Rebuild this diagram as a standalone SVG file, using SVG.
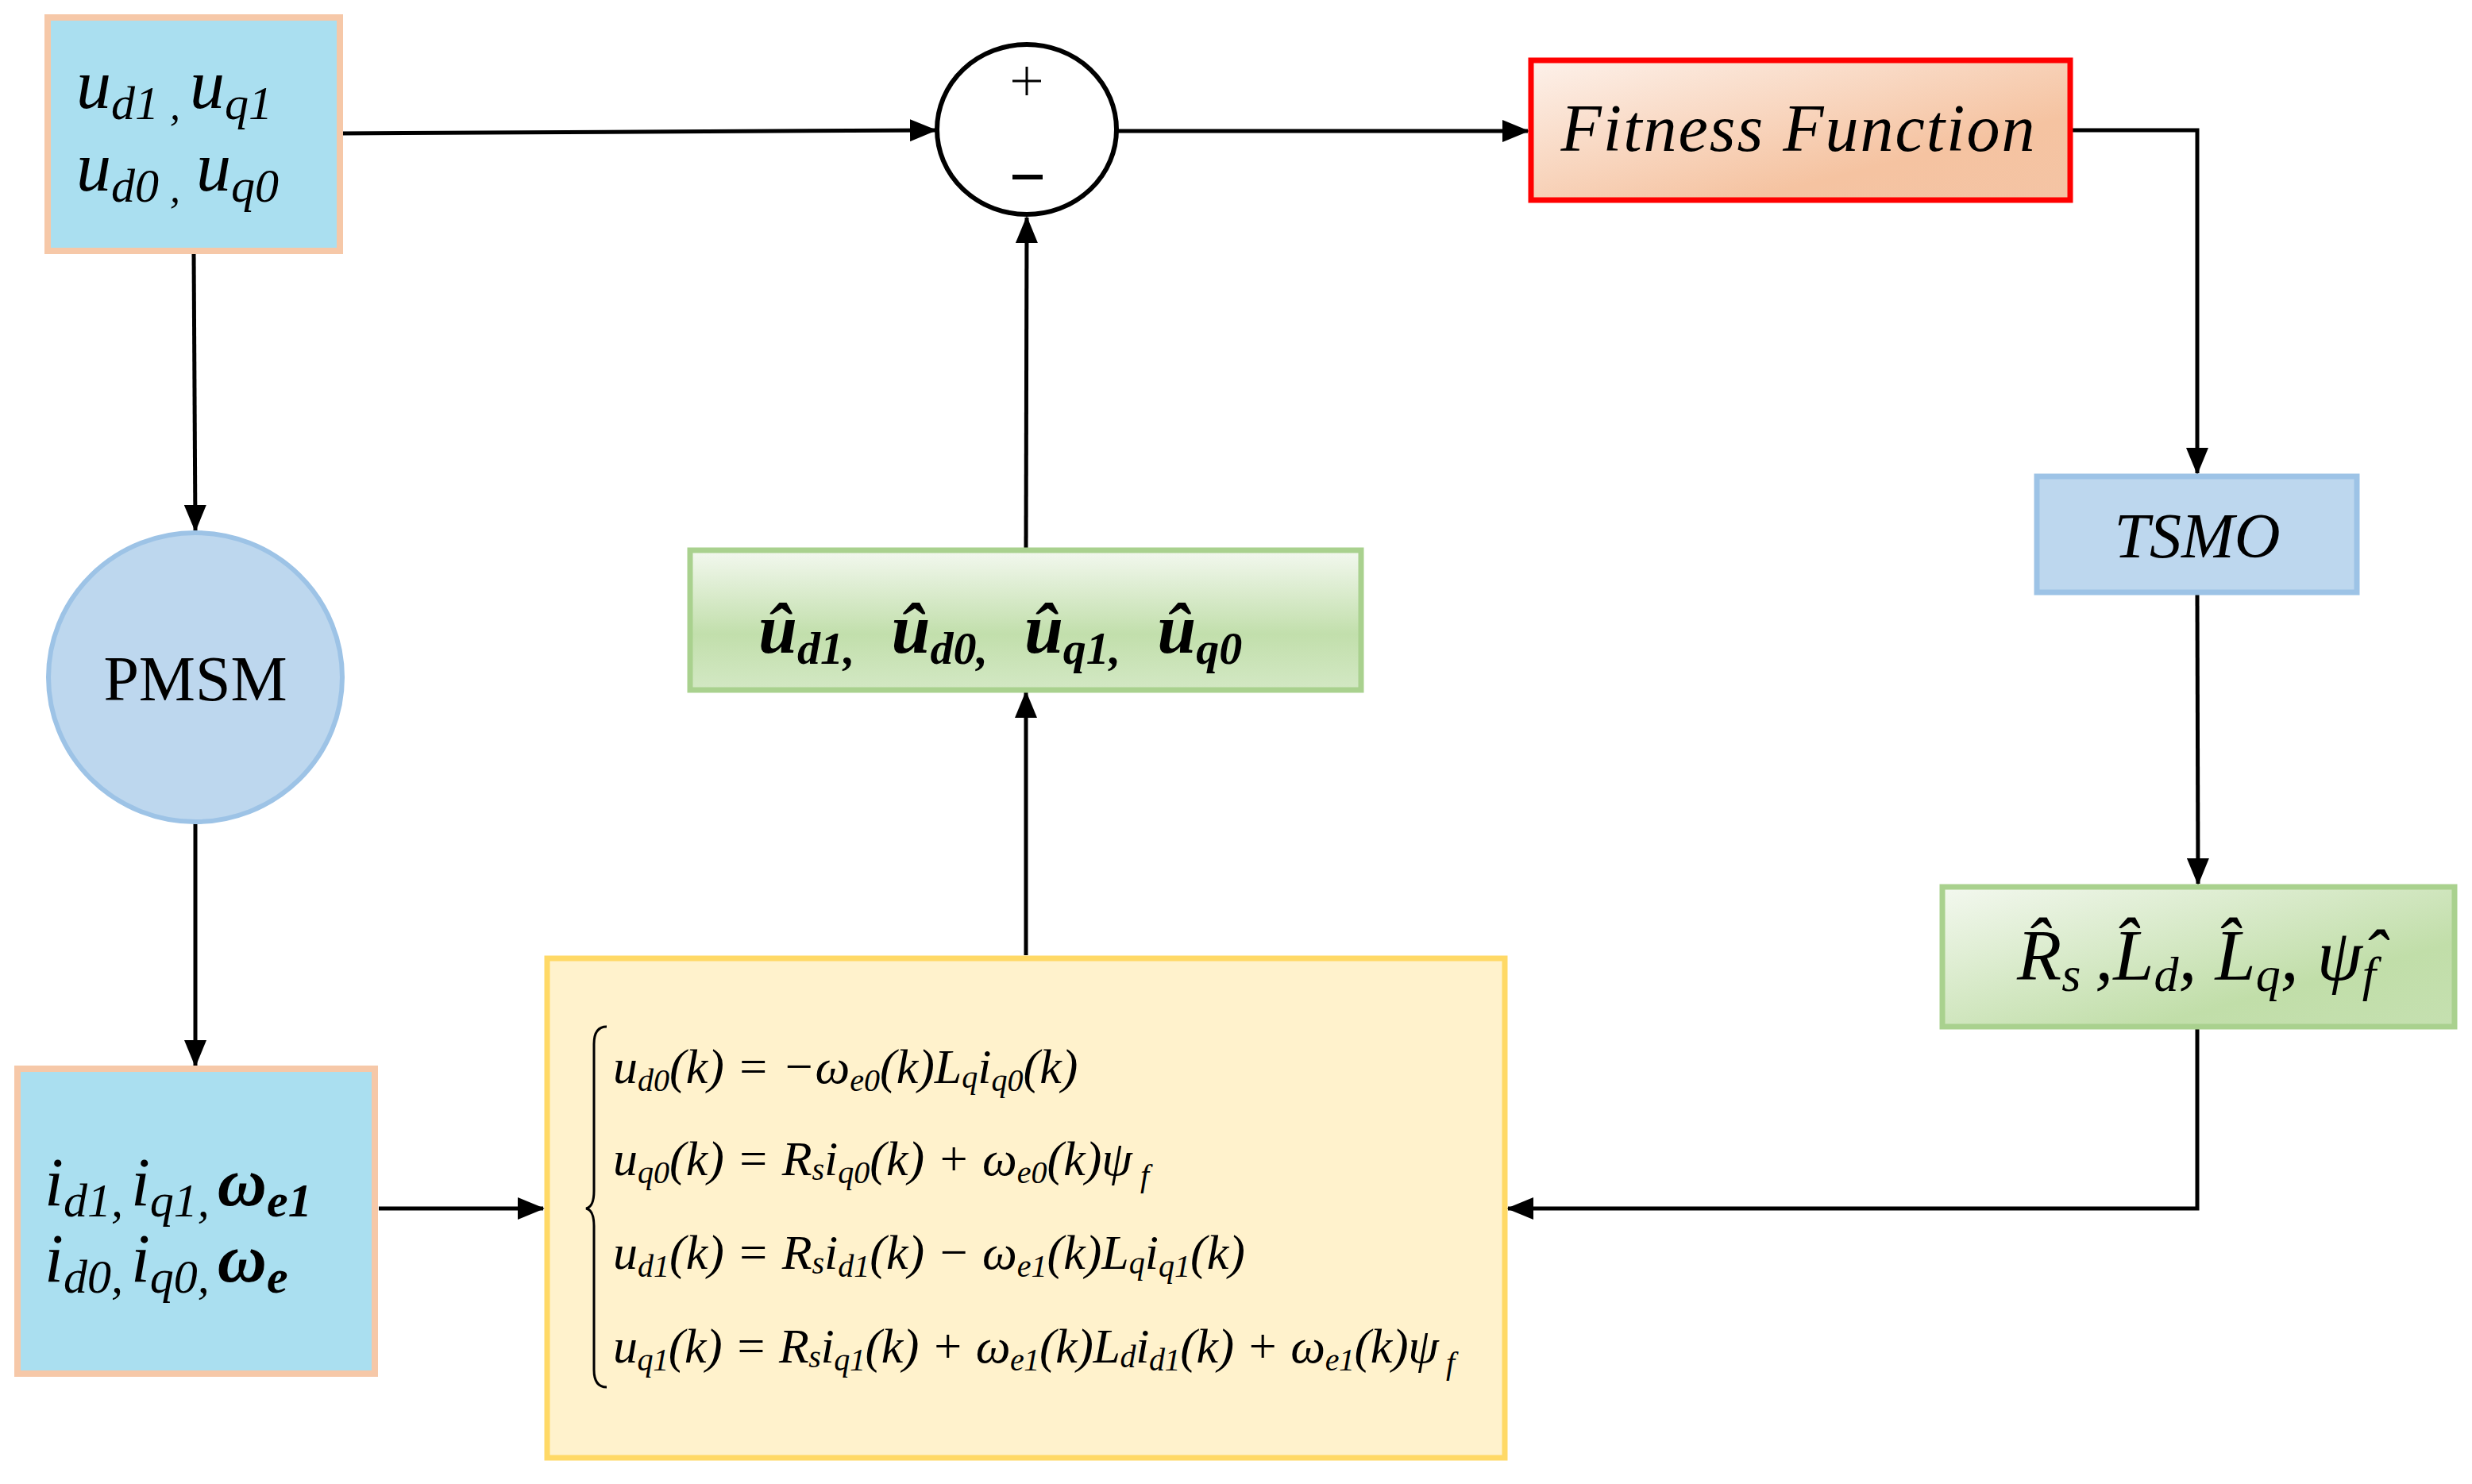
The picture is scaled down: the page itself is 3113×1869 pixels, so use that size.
<svg xmlns="http://www.w3.org/2000/svg" width="3113" height="1869" viewBox="0 0 3113 1869">
<style>
.t{font-family:"Liberation Serif","DejaVu Serif",serif;fill:#000}
.i{font-style:italic}
.b{font-weight:bold}
.ln{stroke:#000;stroke-width:5;fill:none}
</style>
<defs>
<marker id="ah" markerUnits="userSpaceOnUse" markerWidth="34" markerHeight="28" refX="32" refY="14" orient="auto">
<path d="M0,0 L34,14 L0,28 Z" fill="#000"/>
</marker>
<linearGradient id="gf" x1="0" y1="0" x2="1" y2="1">
<stop offset="0" stop-color="#fdf1ea"/><stop offset="0.7" stop-color="#f5c3a1"/><stop offset="1" stop-color="#f4c4a4"/>
</linearGradient>
<linearGradient id="gg" x1="0" y1="0" x2="0" y2="1">
<stop offset="0" stop-color="#f3f8ef"/><stop offset="0.6" stop-color="#c2dfac"/><stop offset="1" stop-color="#d3e8c4"/>
</linearGradient>
<linearGradient id="gp" x1="0" y1="0" x2="1" y2="1">
<stop offset="0" stop-color="#f3f8ef"/><stop offset="0.7" stop-color="#c1dea9"/><stop offset="1" stop-color="#c5e0b0"/>
</linearGradient>
</defs>

<g id="connectors">
<path class="ln" d="M429,168 L1178,164" marker-end="url(#ah)"/>
<path class="ln" d="M1407,165 L1924,165" marker-end="url(#ah)"/>
<path class="ln" d="M2609,164 L2767,164 L2767,596" marker-end="url(#ah)"/>
<path class="ln" d="M2767,748 L2768,1113" marker-end="url(#ah)"/>
<path class="ln" d="M2767,1294 L2767,1522 L1899,1522" marker-end="url(#ah)"/>
<path class="ln" d="M477,1522 L684,1522" marker-end="url(#ah)"/>
<path class="ln" d="M1292,1203 L1292,872" marker-end="url(#ah)"/>
<path class="ln" d="M1292,690 L1293,274" marker-end="url(#ah)"/>
<path class="ln" d="M244,318 L246,668" marker-end="url(#ah)"/>
<path class="ln" d="M246,1037 L246,1342" marker-end="url(#ah)"/>
</g>

<g id="voltages">
<rect x="60" y="22" width="368" height="294" fill="#aadff0" stroke="#f6c8a8" stroke-width="8"/>
<text class="t i" font-size="88" x="96" y="136">u<tspan font-size="60" dy="14">d1</tspan><tspan font-size="52" dx="14">,</tspan><tspan dx="12" dy="-14">u</tspan><tspan font-size="60" dy="14">q1</tspan></text>
<text class="t i" font-size="88" x="96" y="240">u<tspan font-size="60" dy="14">d0</tspan><tspan font-size="52" dx="14">,</tspan><tspan dx="20" dy="-14">u</tspan><tspan font-size="60" dy="14">q0</tspan></text>
</g>

<g id="sum">
<ellipse cx="1293" cy="163" rx="113" ry="107" fill="#fff" stroke="#000" stroke-width="6"/>
<line x1="1275" y1="102" x2="1311" y2="102" stroke="#000" stroke-width="3"/>
<line x1="1293" y1="84" x2="1293" y2="120" stroke="#000" stroke-width="3"/>
<line x1="1275" y1="223" x2="1313" y2="223" stroke="#000" stroke-width="6"/>
</g>

<g id="fitness">
<rect x="1928" y="76" width="679" height="176" fill="url(#gf)" stroke="#ff0000" stroke-width="7"/>
<text class="t i" font-size="84" x="2265" y="190" text-anchor="middle" letter-spacing="2">Fitness Function</text>
</g>

<g id="tsmo">
<rect x="2565" y="600" width="403" height="146" fill="#bdd7ee" stroke="#9dc3e6" stroke-width="7"/>
<text class="t i" font-size="80" x="2767" y="702" text-anchor="middle">TSMO</text>
</g>

<g id="params">
<rect x="2446" y="1117" width="645" height="176" fill="url(#gp)" stroke="#a9d18e" stroke-width="7"/>
<text class="t i" font-size="92" x="2540" y="1234">R̂<tspan font-size="62" dy="14">s</tspan><tspan dx="18" dy="-14">,L̂</tspan><tspan font-size="62" dy="14">d</tspan><tspan dy="-14">, L̂</tspan><tspan font-size="62" dy="14">q</tspan><tspan dy="-14">, ψ̂</tspan><tspan font-size="62" dy="14">f</tspan></text>
</g>

<g id="uhat">
<rect x="869" y="693" width="845" height="176" fill="url(#gg)" stroke="#a9d18e" stroke-width="7"/>
<text class="t i b" font-size="88" x="955" y="822">û<tspan font-size="58" dy="14">d1</tspan><tspan font-size="58">,</tspan><tspan dx="46" dy="-14">û</tspan><tspan font-size="58" dy="14">d0</tspan><tspan font-size="58">,</tspan><tspan dx="46" dy="-14">û</tspan><tspan font-size="58" dy="14">q1</tspan><tspan font-size="58">,</tspan><tspan dx="46" dy="-14">û</tspan><tspan font-size="58" dy="14">q0</tspan></text>
</g>

<g id="pmsm">
<ellipse cx="246" cy="853" rx="185" ry="182" fill="#bdd7ee" stroke="#9dc3e6" stroke-width="6"/>
<text class="t" font-size="80" x="246" y="882" text-anchor="middle">PMSM</text>
</g>

<g id="currents">
<rect x="22" y="1346" width="450" height="384" fill="#aadff0" stroke="#f6c8a8" stroke-width="8"/>
<text class="t i" font-size="86" x="56" y="1518">i<tspan font-size="60" dy="14">d1</tspan><tspan font-size="60">,</tspan><tspan dx="10" dy="-14">i</tspan><tspan font-size="60" dy="14">q1</tspan><tspan font-size="60">,</tspan><tspan dx="10" dy="-14" font-weight="bold">ω</tspan><tspan font-size="60" dy="14" font-weight="bold">e1</tspan></text>
<text class="t i" font-size="86" x="56" y="1614">i<tspan font-size="60" dy="14">d0</tspan><tspan font-size="60">,</tspan><tspan dx="10" dy="-14">i</tspan><tspan font-size="60" dy="14">q0</tspan><tspan font-size="60">,</tspan><tspan dx="10" dy="-14" font-weight="bold">ω</tspan><tspan font-size="60" dy="14" font-weight="bold">e</tspan></text>
</g>

<g id="model">
<rect x="689" y="1207" width="1206" height="629" fill="#fff2cc" stroke="#ffd966" stroke-width="7"/>
<path d="M764,1293 Q748,1293 748,1315 L748,1500 Q748,1520 738,1522 Q748,1524 748,1544 L748,1725 Q748,1747 764,1747" fill="none" stroke="#000" stroke-width="3"/>
<text class="t i" font-size="62" x="772" y="1364">u<tspan font-size="40" dy="10">d0</tspan><tspan dy="-10">(k) = −ω</tspan><tspan font-size="40" dy="10">e0</tspan><tspan dy="-10">(k)L</tspan><tspan font-size="40" dy="6">q</tspan><tspan dy="-6">i</tspan><tspan font-size="40" dy="10">q0</tspan><tspan dy="-10">(k)</tspan></text>
<text class="t i" font-size="62" x="772" y="1480">u<tspan font-size="40" dy="10">q0</tspan><tspan dy="-10">(k) = R</tspan><tspan font-size="40" dy="6">s</tspan><tspan dy="-6">i</tspan><tspan font-size="40" dy="10">q0</tspan><tspan dy="-10">(k) + ω</tspan><tspan font-size="40" dy="10">e0</tspan><tspan dy="-10">(k)ψ</tspan><tspan font-size="40" dy="14"> f</tspan></text>
<text class="t i" font-size="62" x="772" y="1598">u<tspan font-size="40" dy="10">d1</tspan><tspan dy="-10">(k) = R</tspan><tspan font-size="40" dy="6">s</tspan><tspan dy="-6">i</tspan><tspan font-size="40" dy="10">d1</tspan><tspan dy="-10">(k) − ω</tspan><tspan font-size="40" dy="10">e1</tspan><tspan dy="-10">(k)L</tspan><tspan font-size="40" dy="6">q</tspan><tspan dy="-6">i</tspan><tspan font-size="40" dy="10">q1</tspan><tspan dy="-10">(k)</tspan></text>
<text class="t i" font-size="62" x="772" y="1716" textLength="1060">u<tspan font-size="40" dy="10">q1</tspan><tspan dy="-10">(k) = R</tspan><tspan font-size="40" dy="6">s</tspan><tspan dy="-6">i</tspan><tspan font-size="40" dy="10">q1</tspan><tspan dy="-10">(k) + ω</tspan><tspan font-size="40" dy="10">e1</tspan><tspan dy="-10">(k)L</tspan><tspan font-size="40" dy="6">d</tspan><tspan dy="-6">i</tspan><tspan font-size="40" dy="10">d1</tspan><tspan dy="-10">(k) + ω</tspan><tspan font-size="40" dy="10">e1</tspan><tspan dy="-10">(k)ψ</tspan><tspan font-size="40" dy="14"> f</tspan></text>
</g>
</svg>
